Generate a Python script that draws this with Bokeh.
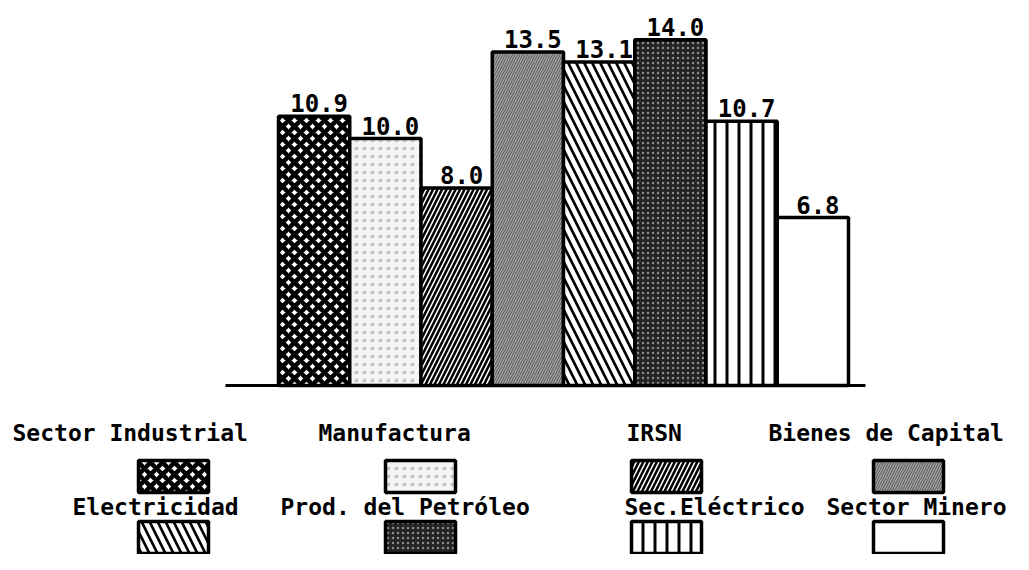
from bokeh.plotting import figure
from bokeh.models import Range1d
from bokeh.embed import file_html
from bokeh.resources import INLINE
from bokeh.core.properties import value

# ---- data ----
categories = ["Sector Industrial", "Manufactura", "IRSN", "Bienes de Capital",
              "Electricidad", "Prod. del Petróleo", "Sec.Eléctrico", "Sector Minero"]
values = [10.9, 10.0, 8.0, 13.5, 13.1, 14.0, 10.7, 6.8]
labels = ["10.9", "10.0", "8.0", "13.5", "13.1", "14.0", "10.7", "6.8"]

# ---- styles (one per category) ----
styles = [
    dict(fill_color="white", hatch_pattern="x", hatch_color="black", hatch_scale=12, hatch_weight=4.5),
    dict(fill_color="#f6f6f6", hatch_pattern="dot", hatch_color="#c4c4c4", hatch_scale=8, hatch_weight=1),
    dict(fill_color="black", hatch_pattern="/", hatch_color="white", hatch_scale=9, hatch_weight=1.6),
    dict(fill_color="#a3a3a3", hatch_pattern="/", hatch_color="#555555", hatch_scale=5, hatch_weight=1),
    dict(fill_color="black", hatch_pattern="\\", hatch_color="white", hatch_scale=16, hatch_weight=4.5),
    dict(fill_color="#242424", hatch_pattern="dot", hatch_color="#8c8c8c", hatch_scale=5, hatch_weight=2),
    dict(fill_color="white", hatch_pattern="|", hatch_color="black", hatch_scale=12, hatch_weight=3),
    dict(fill_color="white", hatch_pattern=" ", hatch_color="black", hatch_scale=12, hatch_weight=1),
]

W, H = 1013, 554
PX_PER_UNIT = 24.7
BASE_Y = 385
p = figure(width=W, height=H, output_backend="svg", toolbar_location=None,
           x_range=Range1d(0, W),
           y_range=Range1d(-(H - BASE_Y) / PX_PER_UNIT, BASE_Y / PX_PER_UNIT),
           min_border=0, min_border_left=0, min_border_right=0,
           min_border_top=0, min_border_bottom=0)
p.xaxis.visible = False
p.yaxis.visible = False
p.grid.visible = False
p.outline_line_color = None
p.background_fill_color = "white"
p.border_fill_color = "white"
p.extra_y_ranges = {"px": Range1d(H, 0)}

FONT = value("DejaVu Sans Mono")

# ---- bars ----
bar_left0, bar_w = 278, 71.25
for i, (v, st) in enumerate(zip(values, styles)):
    left = bar_left0 + i * bar_w
    p.quad(left=left, right=left + bar_w, bottom=0, top=v,
           line_color="black", line_width=3.5, **st)
    p.text(x=[left + bar_w / 2], y=[v], text=[labels[i]],
           text_align="center", text_baseline="bottom", y_offset=-4, x_offset=5,
           text_font=FONT, text_font_style="bold",
           text_font_size="24px", text_color="black")

# baseline
p.segment(x0=[225], x1=[865], y0=[0], y1=[0], line_color="black", line_width=3)

# ---- legend (4 columns x 2 rows) ----
col_swatch_x = [173, 420, 666, 908]
text_left = [12, 318, 626, 768, 72, 280, 624, 826]
row_text_y = [432, 506]
row_swatch_y = [476, 537]
sw_w, sw_h = 70, 32
for i, name in enumerate(categories):
    r, c = divmod(i, 4)
    sx = col_swatch_x[c]
    sy = row_swatch_y[r]
    p.quad(left=sx - sw_w / 2, right=sx + sw_w / 2, top=sy - sw_h / 2, bottom=sy + sw_h / 2,
           y_range_name="px", line_color="black", line_width=3.5, **styles[i])
    p.text(x=[text_left[i]], y=[row_text_y[r]], text=[name], y_range_name="px",
           text_align="left", text_baseline="middle",
           text_font=FONT, text_font_style="bold",
           text_font_size="23px", text_color="black")

open("out.html", "w").write(file_html(p, INLINE))
